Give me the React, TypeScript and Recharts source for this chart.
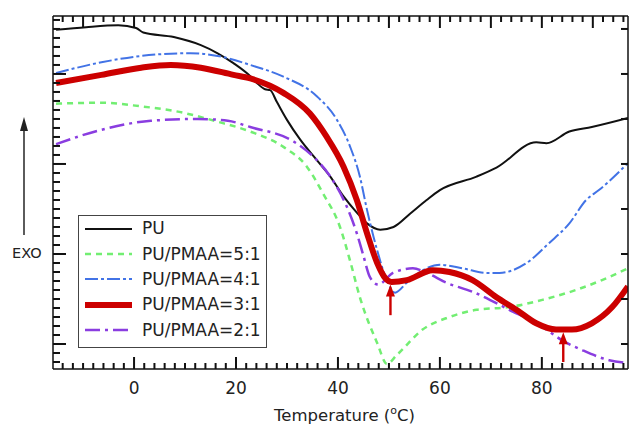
import { Legend, Line, LineChart, ReferenceLine, XAxis, YAxis } from 'recharts';

const FONT = '"DejaVu Sans", "Noto Sans", sans-serif';
const AXIS_COLOR = '#111';
const TEXT_COLOR = '#222';

const W = 630;
const H = 425;
const TOP_H = 16;
const BOTTOM_H = 56;
const LEFT_W = 53;
const RIGHT_W = 2;
const PLOT_W = W - LEFT_W - RIGHT_W;
const PLOT_H = H - TOP_H - BOTTOM_H;

// axis ranges (temperature in °C, heat flow in arbitrary units)
const X_DOMAIN: [number, number] = [-15.9, 96.9];
const Y_DOMAIN: [number, number] = [-2.78, 36.44];
const X_LABELS = [0, 20, 40, 60, 80];

// PU
const PU_T = [-15.3, -9.4, -3.1, 0.4, 1.8, 7.8, 13.1, 16.4, 19.5, 22.9, 24.1, 25.7, 26.7, 28.0, 30.0, 32.6, 35.9, 38.5, 41.1, 43.7, 45.7, 48.3, 50.9, 54.2, 57.4, 60.0, 67.2, 71.1, 78.9, 80.9, 85.4, 89.8, 96.9];
const PU_V = [34.9, 35.2, 35.4, 35.1, 34.6, 34.1, 33.2, 32.3, 31.2, 29.7, 29.0, 28.3, 28.2, 26.9, 24.9, 22.7, 20.4, 18.6, 16.4, 14.6, 13.4, 12.7, 13.0, 14.5, 16.0, 17.1, 18.6, 19.6, 22.4, 22.3, 23.6, 24.1, 25.1];

// PU/PMAA=5:1
const R51_T = [-15.3, -6.4, 1.4, 7.8, 16.4, 22.8, 29.3, 33.9, 37.1, 40.4, 42.4, 44.3, 47.7, 49.6, 51.6, 56.6, 61.9, 67.2, 73.6, 80.1, 86.7, 91.8, 96.9];
const R51_V = [26.7, 26.8, 26.4, 25.9, 24.7, 23.6, 21.9, 19.7, 16.7, 13.0, 9.2, 5.2, 0.1, -2.2, -1.2, 1.6, 3.0, 3.8, 4.1, 4.9, 6.0, 7.1, 8.4];

// PU/PMAA=4:1
const R41_T = [-15.3, -6.4, 5.3, 11.1, 16.4, 22.8, 29.3, 35.9, 39.8, 42.4, 44.3, 45.7, 47.7, 49.8, 51.2, 53.5, 57.0, 60.0, 64.5, 69.1, 71.7, 77.0, 81.4, 85.4, 88.7, 91.2, 96.9];
const R41_V = [30.1, 31.3, 32.2, 32.3, 32.0, 31.0, 29.7, 27.5, 24.9, 21.9, 18.6, 14.9, 10.4, 6.8, 5.7, 6.8, 8.3, 8.8, 8.4, 7.9, 7.9, 9.0, 11.2, 13.4, 16.0, 17.1, 20.1];

// PU/PMAA=3:1
const R31_T = [-15.3, -6.4, 1.4, 7.2, 13.1, 19.5, 22.8, 29.3, 34.5, 37.8, 41.1, 43.7, 45.7, 47.7, 49.3, 50.5, 53.5, 58.6, 61.9, 66.4, 71.1, 75.0, 78.9, 82.8, 85.9, 89.8, 93.8, 96.9];
const R31_V = [29.0, 29.9, 30.7, 31.0, 30.7, 29.9, 29.5, 27.9, 25.6, 23.0, 19.7, 16.0, 12.3, 9.0, 7.3, 6.9, 7.1, 8.2, 8.0, 7.1, 5.2, 3.8, 2.3, 1.6, 1.6, 2.3, 4.1, 6.4];

// PU/PMAA=2:1
const R21_T = [-15.3, -6.4, 3.3, 12.5, 18.4, 22.8, 31.3, 35.2, 38.5, 41.7, 43.7, 44.9, 46.3, 47.9, 50.8, 54.7, 57.4, 61.3, 66.4, 73.6, 80.1, 84.0, 88.0, 93.2, 96.9];
const R21_V = [22.2, 23.8, 24.8, 25.0, 24.8, 24.1, 22.5, 20.8, 18.6, 15.3, 12.3, 10.0, 7.4, 6.6, 7.9, 8.4, 7.9, 6.8, 5.8, 3.8, 1.9, 0.4, -0.7, -1.8, -2.1];

// red arrows marking the 3:1 transitions: temperature, tail and tip
const ARROW_T = [50.3, 84.2];
const ARROW_FROM = [3.2, -2.0];
const ARROW_TO = [6.6, 1.3];

const zip = (t: number[], v: number[]) => t.map((x, i) => ({ t: x, v: v[i] }));
const range = (a: number, b: number, step: number) => {
  const out: number[] = [];
  for (let x = a; x <= b; x += step) out.push(x);
  return out;
};

const X_TICKS = range(-14, 96, 2);
const Y_TICKS = range(-2, 36, 1);

const SERIES = [
  { key: 'pu', name: 'PU', data: zip(PU_T, PU_V), color: '#111111', width: 2, dash: undefined as string | undefined },
  { key: 'r51', name: 'PU/PMAA=5:1', data: zip(R51_T, R51_V), color: '#72ee72', width: 2.5, dash: '6 5' },
  { key: 'r41', name: 'PU/PMAA=4:1', data: zip(R41_T, R41_V), color: '#4273e6', width: 2, dash: '13 3 3 3' },
  { key: 'r31', name: 'PU/PMAA=3:1', data: zip(R31_T, R31_V), color: '#cc0000', width: 6, dash: undefined },
  { key: 'r21', name: 'PU/PMAA=2:1', data: zip(R21_T, R21_V), color: '#8a3de0', width: 2.5, dash: '15 5 3 5' },
];
const DRAW_ORDER = ['pu', 'r51', 'r41', 'r21', 'r31'];

// bottom ticks + labels, and the matching ticks on the top frame edge
function BottomTick({ x, y, payload }: any) {
  const v = payload.value;
  const labelled = X_LABELS.includes(v);
  const top = y - PLOT_H;
  return (
    <g>
      <line x1={x} y1={y} x2={x} y2={y - (labelled ? 12 : 6)} stroke={AXIS_COLOR} strokeWidth={2} />
      <line x1={x} y1={top} x2={x} y2={top + (v % 10 === 0 ? 12 : 6)} stroke={AXIS_COLOR} strokeWidth={2} />
      {labelled && (
        <text x={x} y={y + 19} textAnchor="middle" dominantBaseline="central"
          fontFamily={FONT} fontSize={17} fill={TEXT_COLOR}>
          {v}
        </text>
      )}
    </g>
  );
}

// left ticks, and every fifth one repeated on the right frame edge
function LeftTick({ x, y, payload }: any) {
  const v = payload.value;
  const right = x + PLOT_W;
  return (
    <g>
      <line x1={x} y1={y} x2={x + (v % 10 === 0 ? 13 : 7)} y2={y} stroke={AXIS_COLOR} strokeWidth={2} />
      {v % 5 === 0 && v >= 0 && (
        <line x1={right} y1={y} x2={right - 7} y2={y} stroke={AXIS_COLOR} strokeWidth={2} />
      )}
    </g>
  );
}

function AxisTitle({ viewBox }: any) {
  const cx = viewBox.x + viewBox.width / 2 + 4;
  return (
    <text x={cx} y={viewBox.y + 52} textAnchor="middle" fontFamily={FONT} fontSize={16.5} fill={TEXT_COLOR}>
      <tspan>Temperature (</tspan>
      <tspan dy={-7} fontSize={11}>o</tspan>
      <tspan dy={7}>C)</tspan>
    </text>
  );
}

function Arrow({ x1, y1, x2, y2 }: any) {
  return (
    <g>
      <line x1={x1} y1={y1} x2={x2} y2={y2 + 9} stroke="#cc0000" strokeWidth={2.4} />
      <polygon points={`${x2},${y2} ${x2 - 4.5},${y2 + 12} ${x2 + 4.5},${y2 + 12}`} fill="#cc0000" />
    </g>
  );
}

function LegendBox() {
  return (
    <div
      style={{
        width: 189,
        height: 133,
        boxSizing: 'border-box',
        border: '1.5px solid #444',
        background: '#fff',
        padding: '0 0 0 6px',
        fontFamily: FONT,
        fontSize: 17,
        color: TEXT_COLOR,
      }}
    >
      {SERIES.map((s) => (
        <div key={s.key} style={{ display: 'flex', alignItems: 'center', height: 25.4 }}>
          <svg width={47} height={10} style={{ flex: 'none' }}>
            <line x1={0} y1={5} x2={47} y2={5} stroke={s.color} strokeWidth={s.width} strokeDasharray={s.dash} />
          </svg>
          <span style={{ marginLeft: 10, lineHeight: 1, whiteSpace: 'nowrap' }}>{s.name}</span>
        </div>
      ))}
    </div>
  );
}

export default function App() {
  const ordered = DRAW_ORDER.map((k) => SERIES.find((s) => s.key === k)!);
  const frame = { stroke: AXIS_COLOR, strokeWidth: 1.5 };
  return (
    <div style={{ position: 'absolute', left: 0, top: 0, width: W, height: H, fontFamily: FONT, background: '#fff' }}>
      <LineChart width={W} height={H} margin={{ top: 0, right: 0, bottom: 0, left: 0 }}>
        <XAxis
          xAxisId="bottom"
          type="number"
          dataKey="t"
          domain={X_DOMAIN}
          allowDataOverflow
          ticks={X_TICKS}
          interval={0}
          height={BOTTOM_H}
          tickSize={0}
          tickMargin={0}
          tickLine={false}
          tick={<BottomTick />}
          axisLine={frame}
          label={{ content: <AxisTitle /> }}
        />
        <XAxis xAxisId="top" orientation="top" type="number" domain={X_DOMAIN} allowDataOverflow
          height={TOP_H} tick={false} tickLine={false} axisLine={frame} />
        <YAxis
          yAxisId="left"
          type="number"
          domain={Y_DOMAIN}
          allowDataOverflow
          ticks={Y_TICKS}
          interval={0}
          width={LEFT_W}
          tickSize={0}
          tickMargin={0}
          tickLine={false}
          tick={<LeftTick />}
          axisLine={frame}
        />
        <YAxis yAxisId="right" orientation="right" type="number" domain={Y_DOMAIN} allowDataOverflow
          width={RIGHT_W} tick={false} tickLine={false} axisLine={frame} />
        {ordered.map((s) => (
          <Line
            key={s.key}
            xAxisId="bottom"
            yAxisId="left"
            data={s.data}
            dataKey="v"
            name={s.name}
            type="monotone"
            stroke={s.color}
            strokeWidth={s.width}
            strokeDasharray={s.dash}
            dot={false}
            activeDot={false}
            isAnimationActive={false}
          />
        ))}
        {ARROW_T.map((t, i) => (
          <ReferenceLine
            key={`arrow-${i}`}
            xAxisId="bottom"
            yAxisId="left"
            segment={[{ x: t, y: ARROW_FROM[i] }, { x: t, y: ARROW_TO[i] }]}
            shape={(p: any) => <Arrow {...p} />}
          />
        ))}
        <Legend
          layout="vertical"
          align="center"
          verticalAlign="middle"
          content={<LegendBox />}
          wrapperStyle={{ left: 78, top: 215, width: 189, height: 133 }}
        />
      </LineChart>
      <svg style={{ position: 'absolute', left: 0, top: 0 }} width={50} height={260}>
        <line x1={24} y1={235} x2={24} y2={128} stroke="#333" strokeWidth={1.6} />
        <polygon points="24,117 20,131 28,131" fill="#222" />
      </svg>
      <div style={{ position: 'absolute', left: 12, top: 244, fontSize: 14.5, lineHeight: '18px', color: TEXT_COLOR }}>EXO</div>
    </div>
  );
}
